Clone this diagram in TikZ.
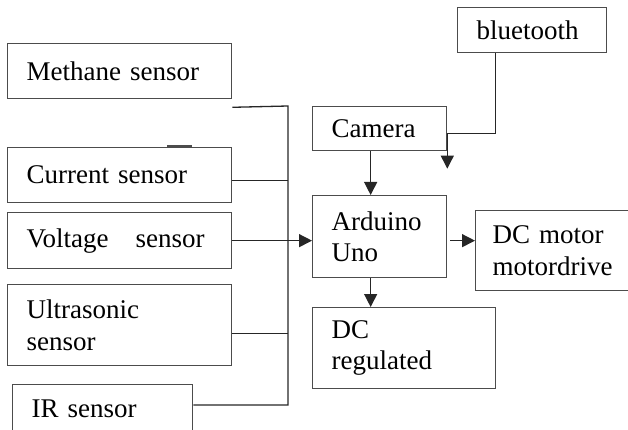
\documentclass[tikz,border=0pt]{standalone}
\usepackage{fontspec}
\setmainfont{Liberation Serif}
\usetikzlibrary{arrows.meta}

\begin{document}
\begin{tikzpicture}[x=1pt,y=-1pt,line width=1.3pt,
                    block/.style={draw=black!70,anchor=north west,inner xsep=19pt,inner ysep=0pt,
                                  align=left,font=\fontsize{27}{31.5}\selectfont},
                    wire/.style={draw=black!85},
                    arr/.style={wire,-{Triangle[length=13pt,width=13pt]}}]

          \useasboundingbox (0,0) rectangle (628,430);

          % sensors on the left
          \node[block,text width=186pt,minimum height=55pt] (methane) at (7,43) {Methane sensor};
          \node[block,text width=186pt,minimum height=55pt] (current) at (7,147) {Current sensor};
          \node[block,text width=186pt,minimum height=56pt] (voltage) at (7,212) {Voltage\ \ \ sensor};
          \node[block,text width=186pt,minimum height=81pt] (ultra) at (7,284) {Ultrasonic\\sensor};
          \node[block,text width=142pt,minimum height=48pt] (ir) at (12,384) {IR sensor};

          % controller side
          \node[block,text width=111pt,minimum height=45pt] (bt) at (457,7) {bluetooth};
          \node[block,text width=96pt,minimum height=44pt] (camera) at (312,106) {Camera};
          \node[block,text width=96pt,minimum height=82pt] (arduino) at (312,195) {Arduino\\Uno};
          \node[block,inner xsep=17pt,text width=130pt,minimum height=80pt] (motor) at (475,210) {DC motor\\motordrive};
          \node[block,text width=145pt,minimum height=81pt] (regulated) at (312,307) {DC\\regulated};

          \coordinate (top) at (288,106);
          \coordinate (bottom) at (288,405);
          \coordinate (btend) at ([yshift=-40pt]camera.east);

          \draw[line width=3pt,black!70] ([xshift=160pt]current.north west) -- ([xshift=185pt]current.north west);

          \draw[wire] ([yshift=-8pt]methane.south east) -- (top) -- (bottom) -- (bottom -| ir.east);
          \draw[wire] ([yshift=-5.5pt]current.east) coordinate (c1) -- (c1 -| top);
          \draw[wire] ([yshift=-8.5pt]ultra.east) coordinate (u1) -- (u1 -| top);

          \path
          (voltage.east) edge [arr] (voltage.east -| arduino.west)
          ([xshift=-9pt]camera.south) edge [arr] ([xshift=-9pt]arduino.north)
          ([xshift=-9pt]arduino.south) edge [arr] ([xshift=-9pt]arduino.south |- regulated.north)
          ([yshift=-4pt]arduino.east) edge [arr,shorten <=3pt] ([yshift=-4pt]arduino.east -| motor.west);

          \draw[arr] ([xshift=-36.5pt]bt.south) |- ([yshift=-5pt]camera.east) -- (btend);

        \end{tikzpicture}
\end{document}
